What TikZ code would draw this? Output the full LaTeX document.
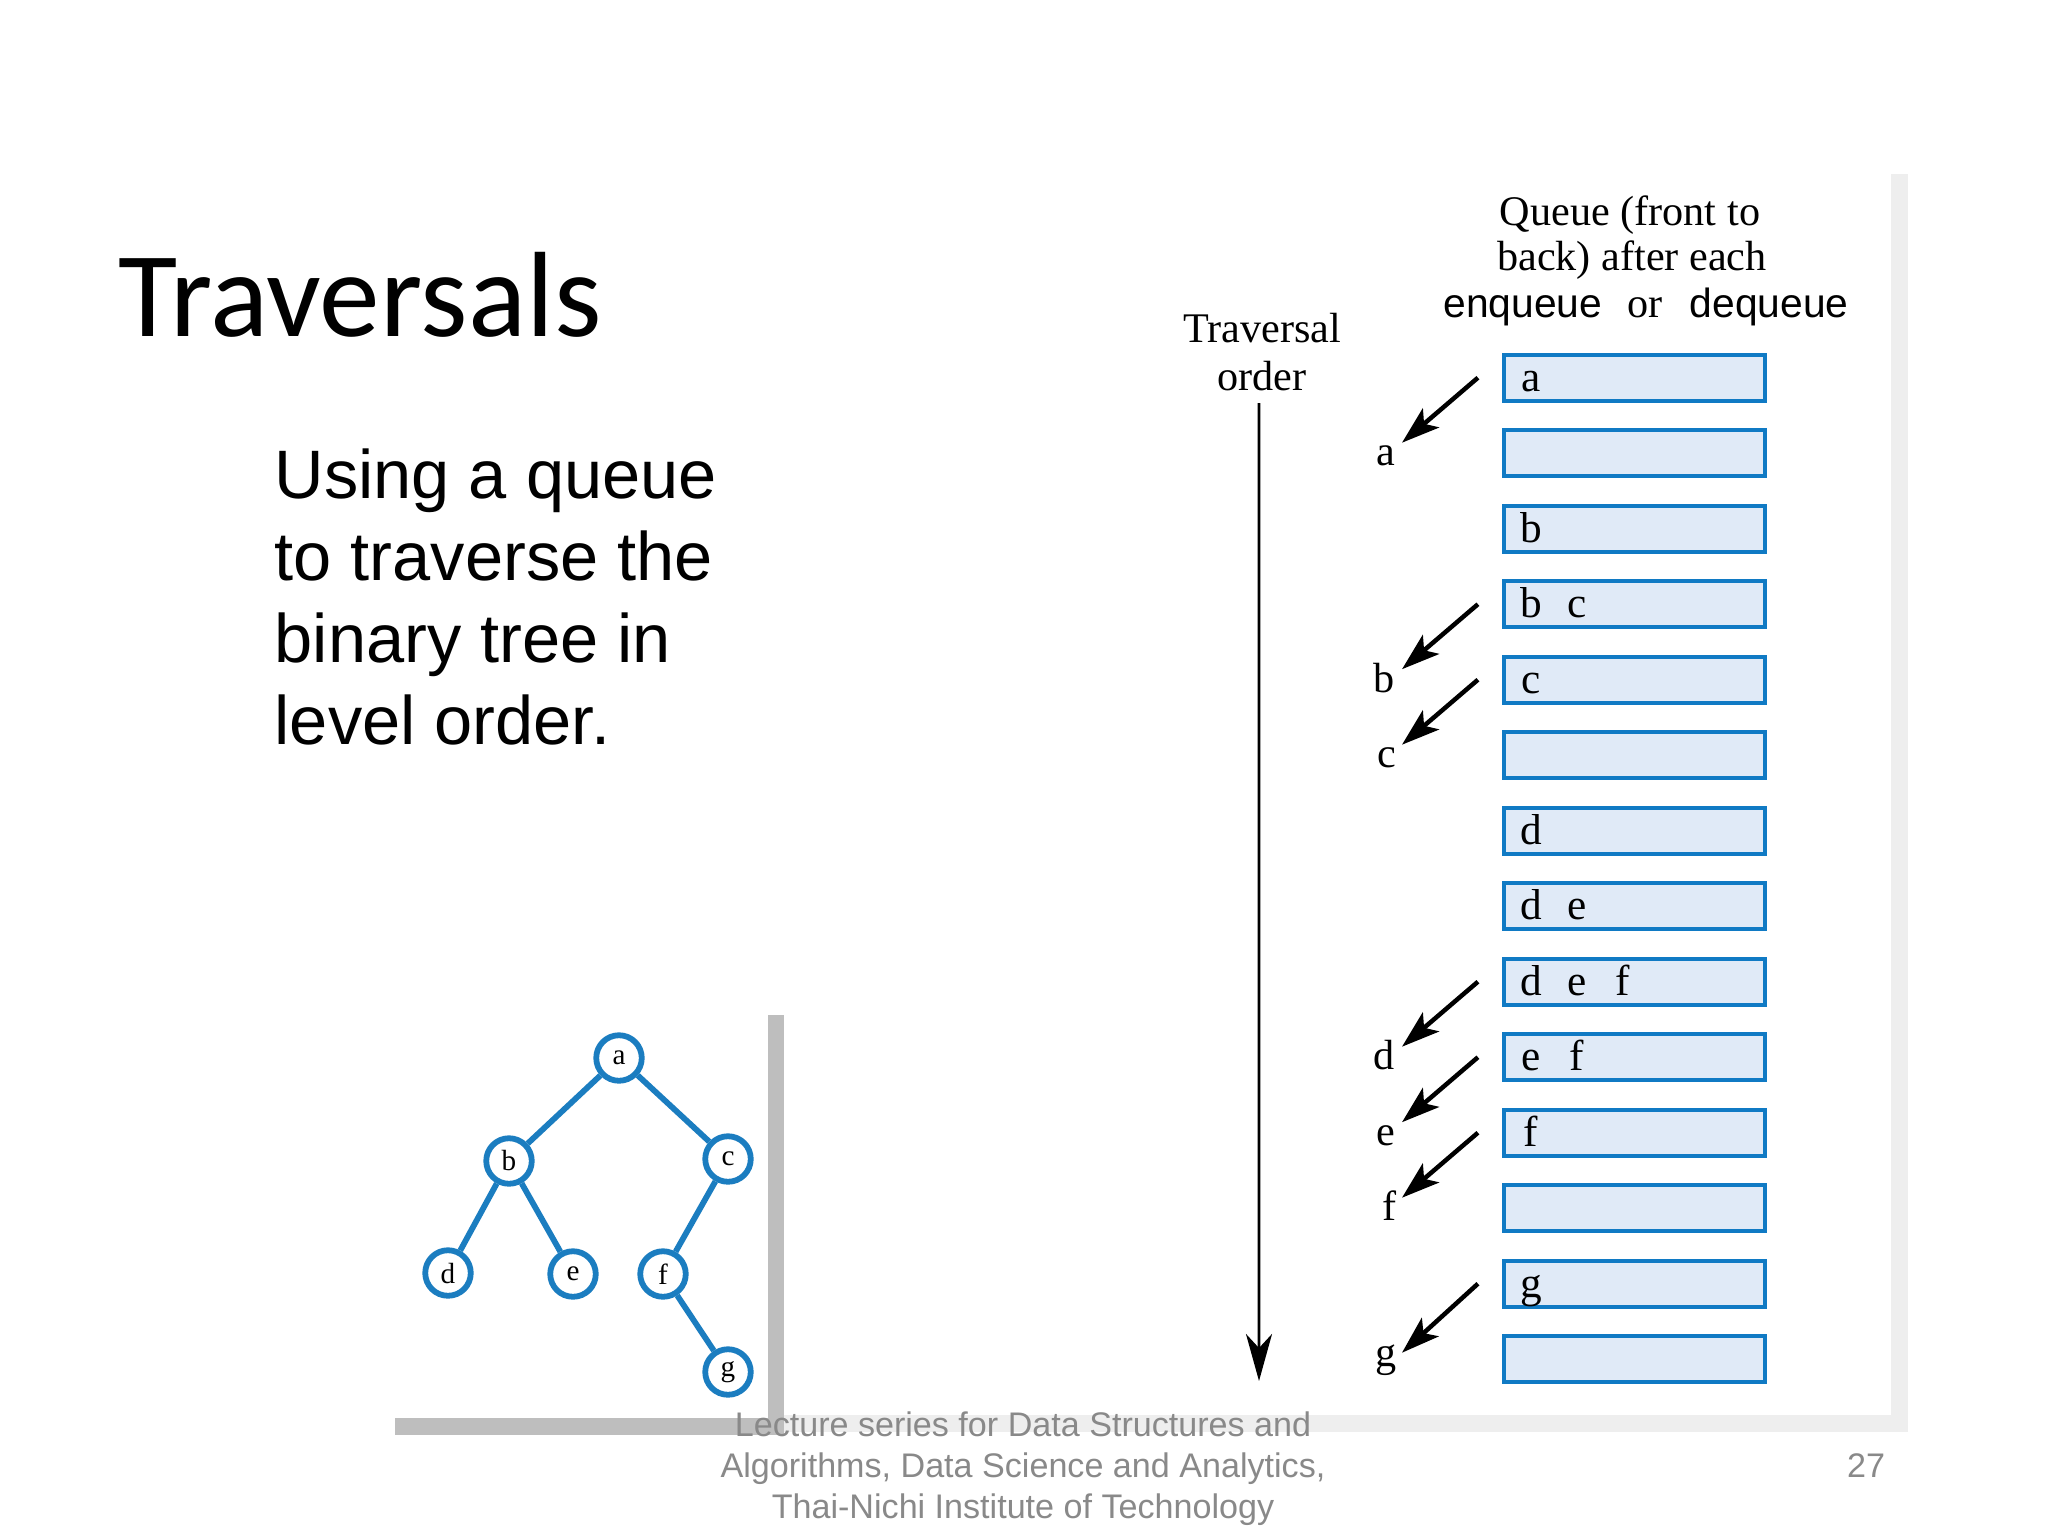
\documentclass[tikz,border=0pt]{standalone}
\usepackage{fontspec}
\setmainfont{Liberation Serif}
\newfontfamily\arialf{Liberation Sans}
\newfontfamily\calibf{Carlito}
\usetikzlibrary{arrows.meta}
\definecolor{qblue}{RGB}{16,122,196}
\definecolor{qfill}{RGB}{224,234,247}
\definecolor{tblue}{RGB}{27,125,192}
\definecolor{footgray}{RGB}{137,137,137}
\definecolor{bardark}{RGB}{190,190,190}
\definecolor{barlight}{RGB}{238,238,238}
\newcommand\qq[1]{\makebox[0.46cm][c]{#1}}
\begin{document}
\begin{tikzpicture}[x=0.01cm,y=-0.01cm,
  qbox/.style={draw=qblue, fill=qfill, line width=0.04cm, minimum height=0.46cm,
    text width=2.53cm, inner xsep=0.04cm, inner ysep=0pt, text height=9pt, text depth=1.2pt,
    align=left, font=\fontsize{12.3}{14}\selectfont},
  lbl/.style={font=\fontsize{12}{14}\selectfont, inner sep=0pt, anchor=base},
  tnode/.style={circle, draw=tblue, fill=white, line width=0.058cm, minimum size=0.455cm,
    inner sep=0pt, font=\fontsize{8.3}{9}\selectfont},
  tedge/.style={draw=tblue, line width=0.058cm},
  darr/.style={line width=0.045cm, -{Stealth[length=0.38cm,width=0.25cm,inset=0.09cm]}},
  varr/.style={line width=0.028cm, -{Stealth[length=0.47cm,width=0.26cm,inset=0.14cm]}},
  bodytxt/.style={anchor=base west, inner sep=0pt, font=\arialf\fontsize{19.5}{23}\selectfont},
  foot/.style={anchor=base, inner sep=0pt, text=footgray, font=\arialf\fontsize{9.7}{11.7}\selectfont}
]
\useasboundingbox[fill=white] (0,0) rectangle (2048,1536);

% panel shadows
\fill[barlight] (1891,174) rectangle (1908,1432);
\fill[barlight] (784,1415) rectangle (1908,1432);
\fill[bardark] (768,1015) rectangle (784,1435);
\fill[bardark] (395,1418) rectangle (784,1435);

% title and body
\node[anchor=base west, inner sep=0pt, font=\calibf\fontsize{34.5}{40}\selectfont] (title) at (118,336) {Traversals};
\node[bodytxt] (body1) at (274,498) {Using a queue};
\node[bodytxt] (body2) at (274,580) {to traverse the};
\node[bodytxt] (body3) at (274,662) {binary tree in};
\node[bodytxt] (body4) at (274,744) {level order.};

% tree
\node[tnode] (ta) at (619,1058) {a};
\node[tnode] (tb) at (509,1161) {b};
\node[tnode] (tc) at (728,1159) {c};
\node[tnode] (td) at (448,1273) {d};
\node[tnode] (te) at (573,1274) {e};
\node[tnode] (tf) at (663,1274) {f};
\node[tnode] (tg) at (728,1372) {g};
\draw[tedge] (ta) -- (tb);
\draw[tedge] (ta) -- (tc);
\draw[tedge] (tb) -- (td);
\draw[tedge] (tb) -- (te);
\draw[tedge] (tc) -- (tf);
\draw[tedge] (tf) -- (tg);

% headings
\node[lbl] (qh1) at (1630,225) {Queue (front to};
\node[lbl] (qh2) at (1632,270) {back) after each};
\node[lbl] (qhor) at (1645,317) {or};
\node[anchor=base east, inner sep=0pt, font=\arialf\fontsize{11.6}{14}\selectfont] (qhen) at (1603,317) {enqueue};
\node[anchor=base west, inner sep=0pt, font=\arialf\fontsize{11.6}{14}\selectfont] (qhde) at (1689,317) {dequeue};
\node[lbl] (trav1) at (1262,342) {Traversal};
\node[lbl] (trav2) at (1262,390) {order};
\coordinate (vend) at (1259,1381);
\draw[varr] ([xshift=-0.03cm,yshift=-0.12cm]trav2.south) -- (vend);

% queue boxes
\node[qbox] (q0) at (1634.5,377.7) {\qq{a}};
\node[qbox] (q1) at (1634.5,453.2) {};
\node[qbox] (q2) at (1634.5,528.7) {\qq{b}};
\node[qbox] (q3) at (1634.5,604.2) {\qq{b}\qq{c}};
\node[qbox] (q4) at (1634.5,679.7) {\qq{c}};
\node[qbox] (q5) at (1634.5,755.2) {};
\node[qbox] (q6) at (1634.5,830.7) {\qq{d}};
\node[qbox] (q7) at (1634.5,906.2) {\qq{d}\qq{e}};
\node[qbox] (q8) at (1634.5,981.7) {\qq{d}\qq{e}\qq{f}};
\node[qbox] (q9) at (1634.5,1057.2) {\qq{e}\qq{f}};
\node[qbox] (q10) at (1634.5,1132.7) {\qq{f}};
\node[qbox] (q11) at (1634.5,1208.2) {};
\node[qbox] (q12) at (1634.5,1283.7) {\qq{g}};
\node[qbox] (q13) at (1634.5,1359.2) {};

% traversal labels
\node[lbl] (la) at (1386,465.7) {a};
\node[lbl] (lb) at (1384,692.2) {b};
\node[lbl] (lc) at (1387,767.7) {c};
\node[lbl] (ld) at (1384,1069.7) {d};
\node[lbl] (le) at (1386,1145.2) {e};
\node[lbl] (lf) at (1390,1220.7) {f};
\node[lbl] (lg) at (1386,1366.7) {g};

\draw[darr] ([xshift=-0.24cm]q0.west) -- ([xshift=0.16cm,yshift=0.23cm]la.base);
\draw[darr] ([xshift=-0.24cm]q3.west) -- ([xshift=0.18cm,yshift=0.23cm]lb.base);
\draw[darr] ([xshift=-0.24cm]q4.west) -- ([xshift=0.15cm,yshift=0.23cm]lc.base);
\draw[darr] ([xshift=-0.24cm]q8.west) -- ([xshift=0.18cm,yshift=0.23cm]ld.base);
\draw[darr] ([xshift=-0.24cm]q9.west) -- ([xshift=0.16cm,yshift=0.23cm]le.base);
\draw[darr] ([xshift=-0.24cm]q10.west) -- ([xshift=0.12cm,yshift=0.23cm]lf.base);
\draw[darr] ([xshift=-0.24cm]q12.west) -- ([xshift=0.16cm,yshift=0.14cm]lg.base);

% footer
\node[foot] (f1) at (1023,1436) {Lecture series for Data Structures and};
\node[foot] (f2) at (1023,1477) {Algorithms, Data Science and Analytics,};
\node[foot] (f3) at (1023,1518) {Thai-Nichi Institute of Technology};
\node[foot] (pg) at (1866,1477) {27};
\end{tikzpicture}
\end{document}
